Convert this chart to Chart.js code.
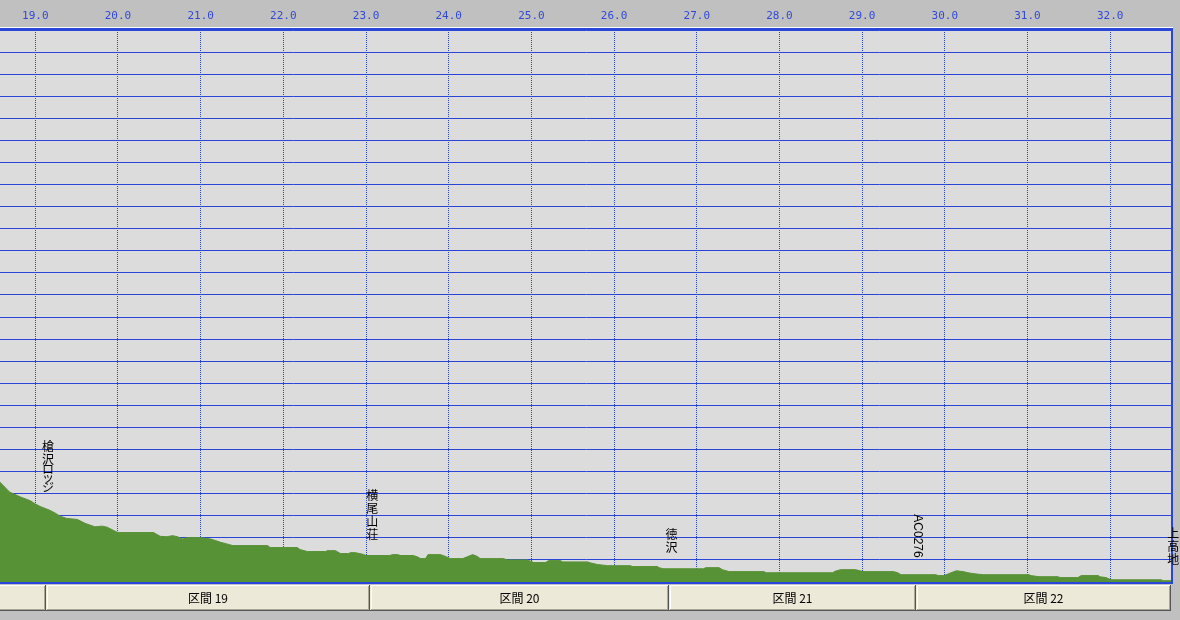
<!DOCTYPE html>
<html>
<head>
<meta charset="utf-8">
<script src="https://cdn.jsdelivr.net/npm/chart.js@4.4.1/dist/chart.umd.min.js"></script>
<style>
  html, body { margin: 0; padding: 0; background: #c0c0c0; }
  canvas { display: block; }
</style>
</head>
<body>
<canvas id="profileChart" width="1180" height="620"></canvas>
<script>
// distance (km) and elevation (m)
const kmValues = [
    18.57, 18.69, 18.75, 18.82, 18.94, 19.00, 19.06, 19.18, 19.24, 19.30,
    19.38, 19.51, 19.60, 19.72, 19.81, 19.87, 19.97, 20.00, 20.43, 20.51,
    20.59, 20.66, 20.72, 20.78, 20.84, 20.99, 21.12, 21.24, 21.36, 21.39,
    21.81, 21.84, 22.17, 22.20, 22.29, 22.51, 22.53, 22.63, 22.69, 22.79,
    22.81, 22.87, 22.97, 23.00, 23.29, 23.32, 23.38, 23.42, 23.57, 23.62,
    23.66, 23.72, 23.75, 23.90, 23.96, 24.02, 24.17, 24.23, 24.29, 24.35,
    24.38, 24.66, 24.71, 24.95, 25.03, 25.17, 25.21, 25.35, 25.38, 25.68,
    25.72, 25.80, 25.92, 26.20, 26.22, 26.53, 26.54, 26.60, 27.08, 27.11,
    27.27, 27.31, 27.39, 27.81, 27.84, 28.65, 28.66, 28.74, 28.92, 29.01,
    29.38, 29.43, 29.47, 29.89, 29.92, 29.99, 30.05, 30.14, 30.22, 30.28,
    30.34, 30.46, 31.02, 31.04, 31.14, 31.37, 31.38, 31.61, 31.65, 31.86,
    31.87, 31.95, 32.01, 32.62, 32.64, 32.76
];
const elevValues = [
    1953, 1907, 1897, 1885, 1868, 1853, 1842, 1824, 1812, 1798,
    1788, 1783, 1766, 1750, 1753, 1748, 1729, 1724, 1724, 1707,
    1705, 1710, 1705, 1695, 1701, 1701, 1695, 1680, 1668, 1665,
    1665, 1656, 1656, 1647, 1638, 1638, 1642, 1642, 1629, 1629,
    1633, 1633, 1625, 1620, 1620, 1624, 1624, 1620, 1620, 1614,
    1606, 1606, 1624, 1624, 1616, 1606, 1606, 1615, 1624, 1615,
    1606, 1606, 1600, 1600, 1588, 1588, 1597, 1597, 1591, 1591,
    1586, 1579, 1574, 1574, 1570, 1570, 1565, 1560, 1560, 1565,
    1565, 1556, 1547, 1547, 1542, 1542, 1547, 1556, 1556, 1547,
    1547, 1542, 1533, 1533, 1529, 1529, 1538, 1551, 1547, 1542,
    1538, 1533, 1533, 1529, 1524, 1524, 1520, 1520, 1529, 1529,
    1524, 1520, 1510, 1510, 1506, 1506
];

// waypoints (km) and their names
const waypointKm = [19.13, 23.05, 26.67, 29.65, 32.74];
const waypointNames = ["槍沢ロッジ", "横尾山荘", "徳沢", "AC0276", "上高地"];

// section bar: boundaries (km) and labels
const sectionBounds = [18.4, 19.13, 23.05, 26.67, 29.65, 32.74];
const sectionLabels = ["", "区間 19", "区間 20", "区間 21", "区間 22"];

const xMin = 18.573, xMax = 32.76;
const yMin = 1500, yMax = 4000, yStep = 100;

const BLUE = "#2a45da";
const GREEN = "#589236";

function elevAt(km) {
    for (let i = 1; i < kmValues.length; i++) {
        if (kmValues[i] >= km) {
            const t = (km - kmValues[i - 1]) / (kmValues[i] - kmValues[i - 1]);
            return elevValues[i - 1] + t * (elevValues[i] - elevValues[i - 1]);
        }
    }
    return elevValues[elevValues.length - 1];
}

// height each character takes in the stacked (vertical) names
function charStep(c) {
    if ("ッャュョァィゥェォ".includes(c)) return 8;
    if (/[\u30a0-\u30ff]/.test(c)) return 10;
    return 13;
}

const profilePlugin = {
    id: "profilePlugin",
    beforeDraw(chart) {
        const { ctx, chartArea: a } = chart;
        ctx.save();
        ctx.fillStyle = "#c0c0c0";
        ctx.fillRect(0, 0, chart.width, chart.height);
        ctx.fillStyle = "#dcdcdc";
        ctx.fillRect(a.left, a.top, a.right - a.left, a.bottom - a.top);
        ctx.fillStyle = "#ffffff";
        ctx.fillRect(0, a.top - 3, a.right, 1);
        ctx.restore();
    },
    afterDraw(chart) {
        const { ctx, chartArea: a } = chart;
        const xs = chart.scales.x, ys = chart.scales.y;
        ctx.save();

        // blue frame
        ctx.fillStyle = BLUE;
        ctx.fillRect(a.left, a.top - 2, a.right - a.left, 2);
        ctx.fillRect(a.right - 2, a.top - 2, 2, a.bottom - a.top + 4);
        ctx.fillRect(a.left, a.bottom, a.right - a.left, 2);

        // section buttons
        const y0 = a.bottom + 3, y1 = a.bottom + 29;
        for (let i = 0; i < sectionLabels.length; i++) {
            const x0 = Math.round(xs.getPixelForValue(sectionBounds[i]));
            const x1 = Math.round(xs.getPixelForValue(sectionBounds[i + 1]));
            ctx.fillStyle = "#ece9d8";
            ctx.fillRect(x0, y0, x1 - x0, y1 - y0);
            ctx.fillStyle = "#ffffff";
            ctx.fillRect(x0 + 1, y0, x1 - x0 - 2, 1);
            ctx.fillRect(x0 + 1, y0, 1, y1 - y0 - 1);
            ctx.fillStyle = "#aca899";
            ctx.fillRect(x0 + 1, y1 - 2, x1 - x0 - 2, 1);
            ctx.fillRect(x1 - 2, y0 + 1, 1, y1 - y0 - 2);
            ctx.fillStyle = "#555555";
            ctx.fillRect(x0, y1 - 1, x1 - x0, 1);
            ctx.fillRect(x1 - 1, y0, 1, y1 - y0);
            if (sectionLabels[i]) {
                ctx.fillStyle = "#000000";
                ctx.font = '12px "Noto Sans CJK JP"';
                ctx.textAlign = "center";
                ctx.textBaseline = "middle";
                ctx.fillText(sectionLabels[i], (x0 + x1) / 2, (y0 + y1) / 2);
            }
        }

        // vertical waypoint names
        ctx.fillStyle = "#000000";
        for (let i = 0; i < waypointNames.length; i++) {
            const name = waypointNames[i];
            const cx = xs.getPixelForValue(waypointKm[i]) + 2;
            const bottom = ys.getPixelForValue(elevAt(waypointKm[i])) - 17;
            if (/^[A-Za-z0-9]+$/.test(name)) {
                ctx.font = '12px "Liberation Sans"';
                const w = ctx.measureText(name).width;
                ctx.save();
                ctx.translate(cx - 1, bottom - w);
                ctx.rotate(Math.PI / 2);
                ctx.textAlign = "left";
                ctx.textBaseline = "middle";
                ctx.fillText(name, 0, 0);
                ctx.restore();
            } else {
                ctx.font = '12px "Noto Sans CJK JP"';
                ctx.textAlign = "center";
                ctx.textBaseline = "bottom";
                const chars = Array.from(name);
                let y = bottom;
                for (let j = chars.length - 1; j >= 0; j--) {
                    ctx.fillText(chars[j], cx, y + 2);
                    y -= charStep(chars[j]);
                }
            }
        }
        ctx.restore();
    }
};

const ctx = document.getElementById("profileChart").getContext("2d");
new Chart(ctx, {
    type: "line",
    data: {
        datasets: [
            {
                data: kmValues.map((k, i) => ({ x: k, y: elevValues[i] })),
                borderColor: GREEN,
                backgroundColor: GREEN,
                borderWidth: 1,
                fill: "start",
                tension: 0,
                pointRadius: 0,
            },
        ],
    },
    options: {
        responsive: false,
        animation: false,
        layout: {
            padding: { left: 0, right: 7, top: 0, bottom: 38 },
        },
        plugins: {
            legend: { display: false },
            tooltip: { enabled: false },
        },
        scales: {
            x: {
                type: "linear",
                position: "top",
                min: xMin,
                max: xMax,
                z: 1,
                afterFit: function (s) {
                    s.height = 30;
                },
                ticks: {
                    stepSize: 1,
                    includeBounds: false,
                    autoSkip: false,
                    maxRotation: 0,
                    padding: 7,
                    color: "#3048d8",
                    font: { family: "DejaVu Sans Mono", size: 11 },
                    callback: function (v) {
                        return Number(v).toFixed(1);
                    },
                },
                grid: {
                    color: BLUE,
                    lineWidth: 1,
                    drawTicks: false,
                    borderDash: [1, 1],
                },
                border: { display: false, dash: [1, 1] },
            },
            y: {
                type: "linear",
                min: yMin,
                max: yMax,
                z: 1,
                afterFit: function (s) {
                    s.width = 0;
                },
                ticks: { display: false, stepSize: yStep },
                grid: { color: BLUE, lineWidth: 1, drawTicks: false },
                border: { display: false },
            },
        },
    },
    plugins: [profilePlugin],
});
</script>
</body>
</html>
